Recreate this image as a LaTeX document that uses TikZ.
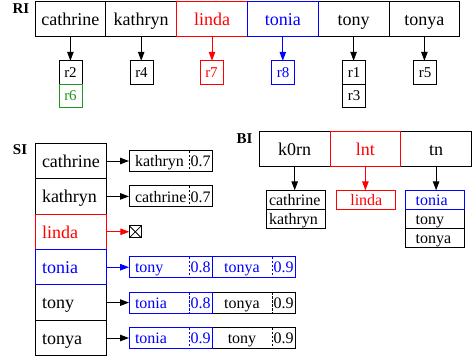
\documentclass[tikz,border=0pt]{standalone}
\usepackage{fontspec}
\setmainfont{Liberation Serif}
\usetikzlibrary{arrows.meta}
\definecolor{okgreen}{RGB}{30,150,30}

\begin{document}
\begin{tikzpicture}[x=1pt,y=-1pt,
  every node/.style={inner sep=0pt, outer sep=0pt},
  lab/.style={font=\fontsize{15}{17}\selectfont\bfseries},
  big/.style={font=\fontsize{18}{20}\selectfont, text height=13.5pt, text depth=0.9pt},
  med/.style={font=\fontsize{16}{18}\selectfont, text height=12pt, text depth=0.8pt},
  sml/.style={font=\fontsize{15}{17}\selectfont, text height=10pt, text depth=1pt},
  cell/.style={draw, line width=1pt, minimum width=70.8pt, minimum height=35pt, big, align=center},
  sicell/.style={draw, line width=1pt, minimum width=71pt, minimum height=35.4pt, big,
    text width=57pt, inner xsep=7pt, align=left},
  rbox/.style={draw, line width=1pt, minimum width=23pt, minimum height=23.5pt, sml},
  nmA/.style={minimum width=60pt, minimum height=21pt, med, text width=48pt, inner xsep=6pt, align=left},
  nmB/.style={minimum width=60pt, minimum height=21pt, med, text width=52pt, inner xsep=4pt, align=center},
  sc/.style={minimum width=23pt, minimum height=21pt, med},
  pairbox/.style={draw, line width=1pt},
  divider/.style={line width=1pt, dash pattern=on 2.5pt off 1.5pt},
  blA/.style={draw, line width=1pt, minimum width=59pt, minimum height=19pt, med,
    text width=54.4pt, inner xsep=2.3pt, align=left},
  blB/.style={draw, line width=1pt, minimum width=59pt, minimum height=19pt, med,
    text width=39pt, inner xsep=10pt, align=left},
  blC/.style={draw, line width=1pt, minimum width=59.3pt, minimum height=19pt, med, align=center},
  xbox/.style={draw, line width=1pt, minimum width=12pt, minimum height=12pt},
  arr/.style={-{Triangle[length=9pt,width=6.5pt]}, line width=1pt}
]
\useasboundingbox (0,0) rectangle (474,356);

% ---------- RI ----------
\node[lab] (riL) at (21,8.8) {RI};
\node[cell] (ri1) at (70.4,19.2) {cathrine};
\node[cell] (ri2) at (141.2,19.2) {kathryn};
\node[cell] (ri5) at (353.6,19.2) {tony};
\node[cell] (ri6) at (424.4,19.2) {tonya};
\node[cell, red] (ri3) at (212,19.2) {linda};
\node[cell, blue] (ri4) at (282.8,19.2) {tonia};

\node[rbox] (r2) at (70.5,72.5) {r2};
\node[rbox] (r4) at (141.5,72.5) {r4};
\node[rbox] (r1) at (354,72.5) {r1};
\node[rbox] (r3) at (354,96) {r3};
\node[rbox] (r5) at (425,72.5) {r5};
\node[rbox, red] (r7) at (211.5,72.5) {r7};
\node[rbox, blue] (r8) at (283,72.5) {r8};
\node[rbox, okgreen] (r6) at (70.5,96) {r6};

\draw[arr] (ri1.south) -- (ri1.south |- r2.north);
\draw[arr] (ri2.south) -- (ri2.south |- r4.north);
\draw[arr, red] (ri3.south) -- (ri3.south |- r7.north);
\draw[arr, blue] (ri4.south) -- (ri4.south |- r8.north);
\draw[arr] (ri5.south) -- (ri5.south |- r1.north);
\draw[arr] (ri6.south) -- (ri6.south |- r5.north);

% ---------- SI ----------
\node[lab] (siL) at (20,150) {SI};
\node[sicell] (si1) at (70.5,161) {cathrine};
\node[sicell] (si2) at (70.5,196.4) {kathryn};
\node[sicell] (si5) at (70.5,302.6) {tony};
\node[sicell] (si6) at (70.5,338) {tonya};
\node[sicell, red] (si3) at (70.5,231.8) {linda};
\node[sicell, blue] (si4) at (70.5,267.2) {tonia};

% similar-name lists
\node[nmA] (a1) at (159,161) {kathryn};
\node[sc] (a1s) at (200.5,161) {0.7};
\draw[pairbox] (a1.north west) rectangle (a1s.south east);
\draw[divider] (a1.north east) -- (a1.south east);

\node[nmA] (b1) at (159,196.4) {cathrine};
\node[sc] (b1s) at (200.5,196.4) {0.7};
\draw[pairbox] (b1.north west) rectangle (b1s.south east);
\draw[divider] (b1.north east) -- (b1.south east);

\node[xbox] (xb) at (135.3,231.8) {};
\draw[line width=0.8pt] (xb.north west) -- (xb.south east) (xb.north east) -- (xb.south west);

\begin{scope}[blue]
\node[nmA] (c1) at (159,267.2) {tony};
\node[sc] (c1s) at (200.5,267.2) {0.8};
\node[nmB] (c2) at (242,267.2) {tonya};
\node[sc] (c2s) at (283.5,267.2) {0.9};
\draw[pairbox] (c2.north west) rectangle (c2s.south east);
\draw[divider] (c2.north east) -- (c2.south east);
\draw[pairbox] (c1.north west) rectangle (c1s.south east);
\draw[divider] (c1.north east) -- (c1.south east);
\end{scope}

\node[nmB] (d2) at (242,302.6) {tonya};
\node[sc] (d2s) at (283.5,302.6) {0.9};
\draw[pairbox] (d2.north west) rectangle (d2s.south east);
\draw[divider] (d2.north east) -- (d2.south east);
\begin{scope}[blue]
\node[nmA] (d1) at (159,302.6) {tonia};
\node[sc] (d1s) at (200.5,302.6) {0.8};
\draw[pairbox] (d1.north west) rectangle (d1s.south east);
\draw[divider] (d1.north east) -- (d1.south east);
\end{scope}

\node[nmB] (e2) at (242,338) {tony};
\node[sc] (e2s) at (283.5,338) {0.9};
\draw[pairbox] (e2.north west) rectangle (e2s.south east);
\draw[divider] (e2.north east) -- (e2.south east);
\begin{scope}[blue]
\node[nmA] (e1) at (159,338) {tonia};
\node[sc] (e1s) at (200.5,338) {0.9};
\draw[pairbox] (e1.north west) rectangle (e1s.south east);
\draw[divider] (e1.north east) -- (e1.south east);
\end{scope}

\draw[arr] (si1.east) -- (a1.west);
\draw[arr] (si2.east) -- (b1.west);
\draw[arr, red] (si3.east) -- (xb.west);
\draw[arr, blue] (si4.east) -- (c1.west);
\draw[arr] (si5.east) -- (d1.west);
\draw[arr] (si6.east) -- (e1.west);

% ---------- BI ----------
\node[lab] (biL) at (244.5,138.5) {BI};
\node[cell] (bi1) at (294.7,149.2) {k0rn};
\node[cell] (bi3) at (436.1,149.2) {tn};
\node[cell, red] (bi2) at (365.4,149.2) {lnt};

\node[blA] (bc1) at (296.2,199.8) {cathrine};
\node[blA] (bc2) at (296.2,218.8) {kathryn};
\node[blC, red] (bd1) at (366.3,199.8) {linda};
\node[blB] (bt2) at (435.2,218.8) {tony};
\node[blB] (bt3) at (435.2,237.8) {tonya};
\node[blB, blue] (bt1) at (435.2,199.8) {tonia};

\draw[arr] (bi1.south) -- (bi1.south |- bc1.north);
\draw[arr, red] (bi2.south) -- (bi2.south |- bd1.north);
\draw[arr] (bi3.south) -- (bi3.south |- bt1.north);
\end{tikzpicture}
\end{document}
